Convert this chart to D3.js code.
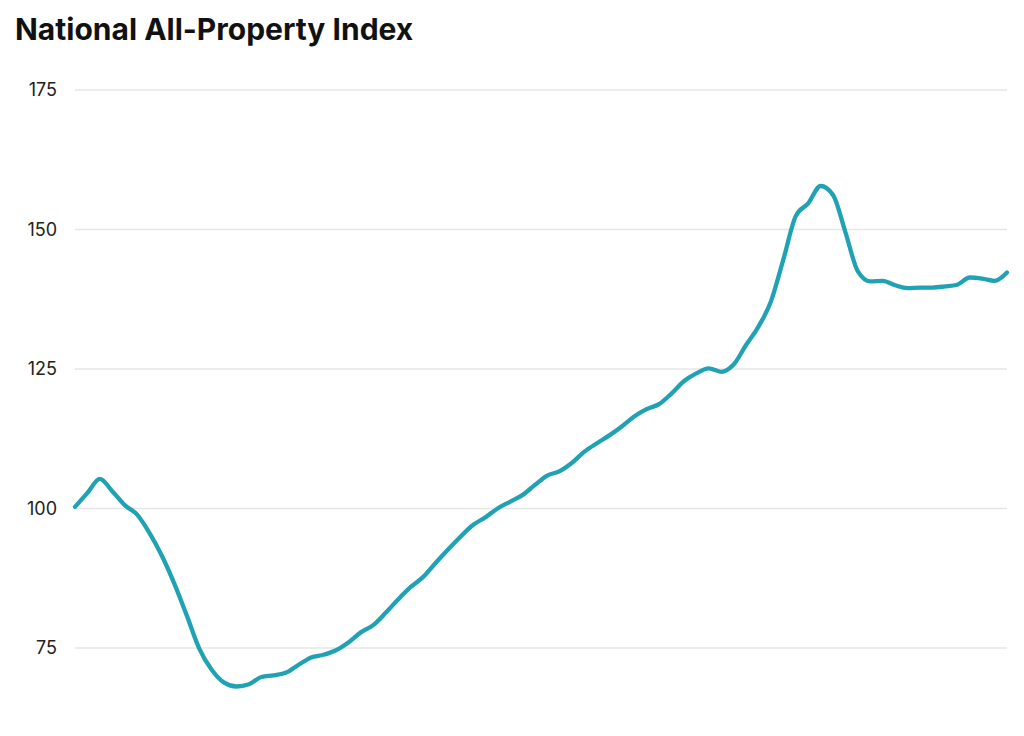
<!DOCTYPE html>
<html>
<head>
<meta charset="utf-8">
<script src="https://cdn.jsdelivr.net/npm/d3@7"></script>
<style>
    body {
        margin: 0;
        background: #fff;
    }
    .title {
        font-family: Inter, "Noto Sans", sans-serif;
        font-weight: 700;
        font-size: 30px;
        fill: #111;
    }
    .axis text {
        font-family: Inter, "Noto Sans", sans-serif;
        font-size: 18px;
        fill: #222;
    }
    .grid line {
        stroke: #e6e6e6;
        stroke-width: 1.5;
    }
    .index-line {
        fill: none;
        stroke: #21a2b4;
        stroke-width: 4.3;
        stroke-linejoin: round;
        stroke-linecap: round;
    }
</style>
</head>
<body>
<svg id="svg"></svg>
<script>
// index values, evenly spaced periods
const indexValues = [
    100.3, 102.8, 105.3, 103.1, 100.6, 98.9, 95.6, 91.5, 86.5, 80.8,
    74.9, 71.1, 68.8, 68.1, 68.5, 69.8, 70.1, 70.6, 72.0, 73.3,
    73.8, 74.6, 76.0, 77.8, 79.1, 81.3, 83.7, 85.9, 87.7, 90.2,
    92.6, 94.9, 97.0, 98.4, 100.0, 101.2, 102.4, 104.2, 105.9, 106.7,
    108.2, 110.2, 111.7, 113.1, 114.7, 116.5, 117.8, 118.7, 120.6, 122.8,
    124.2, 125.1, 124.5, 125.8, 129.3, 132.6, 137.1, 144.6, 152.4, 154.7,
    157.8, 156.2, 149.5, 142.5, 140.7, 140.8, 140.0, 139.5, 139.6, 139.6,
    139.8, 140.1, 141.4, 141.2, 140.8, 142.3
];
const periods = indexValues.map((_, i) => i);
const yTicks = [75, 100, 125, 150, 175];
const chartTitle = 'National All-Property Index';

const width = 1024, height = 736;
const margin = {top: 90, left: 75, right: 17, bottom: 88};

const svg = d3.select('#svg')
    .attr('width', width)
    .attr('height', height);

svg.append('text')
    .attr('class', 'title')
    .attr('x', 15)
    .attr('y', 40)
    .text(chartTitle);

const x = d3.scaleLinear()
    .domain(d3.extent(periods))
    .range([margin.left, width - margin.right]);

const y = d3.scaleLinear()
    .domain([75, 175])
    .range([height - margin.bottom, margin.top]);

// gridlines + labels
const yAxis = d3.axisLeft(y)
    .tickValues(yTicks)
    .tickSize(0)
    .tickPadding(18);

const gAxis = svg.append('g')
    .attr('class', 'axis')
    .attr('transform', 'translate(' + margin.left + ',0)')
    .call(yAxis);
gAxis.select('.domain').remove();

svg.append('g')
    .attr('class', 'grid')
    .selectAll('line')
    .data(yTicks)
    .join('line')
    .attr('x1', margin.left)
    .attr('x2', width - margin.right)
    .attr('y1', d => y(d))
    .attr('y2', d => y(d));

const line = d3.line()
    .x((d, i) => x(periods[i]))
    .y(d => y(d))
    .curve(d3.curveMonotoneX);

svg.append('path')
    .datum(indexValues)
    .attr('class', 'index-line')
    .attr('d', line);
</script>
</body>
</html>
